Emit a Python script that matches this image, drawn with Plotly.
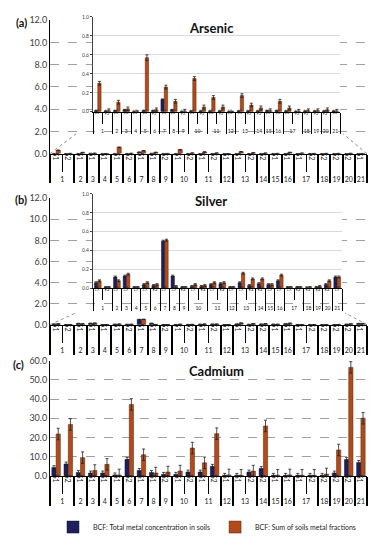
import plotly.graph_objects as go

groups = ["1","1","2","3","4","5","6","7","8","9","10","10","11","11","12","13","13","14","15","16","17","17","18","19","20","21"]
sites = ["S1","S2","S1","S1","S1","S1","S2","S1","S1","S2","S1","S2","S1","S2","S1","S1","S2","S2","S1","S1","S1","S2","S2","S2","S2","S1"]

as_total = [0.01,0.005,0.01,0.02,0.0,0.01,0.01,0.13,0.02,0.0,0.005,0.005,0.005,0.005,0.0,0.005,0.005,0.005,0.01,0.01,0.005,0.0,0.005,0.005,0.005,0.005]
as_sum = [0.30,0.01,0.10,0.03,0.0,0.57,0.02,0.26,0.11,0.005,0.35,0.05,0.15,0.05,0.0,0.17,0.07,0.04,0.01,0.11,0.04,0.005,0.01,0.01,0.02,0.005]
as_total_err = [0.005]*26
as_sum_err = [0.02,0.02,0.02,0.02,0.01,0.03,0.02,0.02,0.02,0.02,0.02,0.02,0.02,0.02,0.005,0.02,0.02,0.02,0.02,0.02,0.02,0.02,0.02,0.02,0.02,0.02]

ag_total = [0.06,0.01,0.12,0.13,0.01,0.04,0.03,0.50,0.13,0.01,0.02,0.02,0.04,0.05,0.01,0.06,0.03,0.05,0.04,0.08,0.01,0.01,0.005,0.01,0.04,0.12]
ag_sum = [0.08,0.01,0.08,0.15,0.01,0.06,0.04,0.51,0.02,0.01,0.04,0.03,0.06,0.06,0.01,0.16,0.10,0.10,0.04,0.14,0.01,0.01,0.01,0.02,0.08,0.12]
ag_total_err = [0.01]*26
ag_sum_err = [0.01]*26

cd_total = [4.3,6.2,1.8,1.5,1.5,0.5,8.6,2.8,1.8,0.8,0.8,2.0,2.0,5.0,0.3,0.3,2.0,3.8,0.3,0.3,0.3,0.3,0.3,1.5,8.5,7.0]
cd_sum = [21.8,26.8,9.5,2.8,6.0,0.5,37.2,11.0,1.5,2.0,2.5,14.5,6.8,22.0,0.5,0.3,2.5,26.0,0.3,0.5,0.3,0.3,1.0,13.5,56.5,30.0]
cd_total_err = [1.0]*26
cd_sum_err = [3.0]*26

names = ["BCF: Total metal concentration in soils", "BCF: Sum of soils metal fractions"]
col_total = "#1c1f5c"
col_sum = "#b4491c"

# page body has an 8px margin: the figure covers reference pixels 8..379 x 8..542
OFF = 8
W, H = 371, 534
def px(x): return (x - OFF) / W
def py(y): return 1 - (y - OFF) / H

FONT = "Lato"
fig = go.Figure()

def add_bars(xa, ya, tot, tot_err, sm, sm_err, show):
    x = [groups, sites]
    fig.add_trace(go.Bar(x=x, y=tot, name=names[0], marker=dict(color=col_total, line=dict(color="#101030", width=0.5)),
                         error_y=dict(type="data", array=tot_err, color="#222", thickness=0.8, width=1.5),
                         xaxis=xa, yaxis=ya, showlegend=show, legendgroup="t"))
    fig.add_trace(go.Bar(x=x, y=sm, name=names[1], marker=dict(color=col_sum, line=dict(color="#4a2a0a", width=0.5)),
                         error_y=dict(type="data", array=sm_err, color="#222", thickness=0.8, width=1.5),
                         xaxis=xa, yaxis=ya, showlegend=show, legendgroup="s"))

add_bars("x", "y", as_total, as_total_err, as_sum, as_sum_err, False)
add_bars("x3", "y3", as_total, as_total_err, as_sum, as_sum_err, False)
add_bars("x4", "y4", ag_total, ag_total_err, ag_sum, ag_sum_err, False)
add_bars("x6", "y6", ag_total, ag_total_err, ag_sum, ag_sum_err, False)
add_bars("x7", "y7", cd_total, cd_total_err, cd_sum, cd_sum_err, True)

def main_x(anchor, dom):
    return dict(domain=dom, anchor=anchor, type="multicategory", showline=True, linecolor="black", linewidth=1,
                ticks="outside", tickson="boundaries", ticklen=17, tickcolor="black", tickwidth=1,
                ticklabelstandoff=-7, tickfont=dict(family=FONT, size=7, color="#222"), automargin=False,
                showdividers=True, dividercolor="black", dividerwidth=1.5, showgrid=False, fixedrange=True)

def main_y(anchor, dom, rng, dt):
    return dict(domain=dom, anchor=anchor, range=rng, dtick=dt, tickformat=".1f", showline=True, linecolor="black",
                linewidth=1, showgrid=True, gridcolor="#a0a0a0", griddash="dash", gridwidth=0.8, zeroline=False,
                tickfont=dict(family=FONT, size=9, color="#404040"), ticks="", fixedrange=True, automargin=False)

def inset_x(anchor, dom):
    return dict(domain=dom, anchor=anchor, type="multicategory", showline=True, linecolor="black", linewidth=1,
                ticks="outside", tickson="boundaries", ticklen=11, tickcolor="black", tickwidth=0.8,
                ticklabelstandoff=-7, tickfont=dict(family=FONT, size=5, color="#222"), automargin=False,
                showdividers=True, dividercolor="black", dividerwidth=1, showgrid=False, fixedrange=True)

def inset_y(anchor, dom):
    return dict(domain=dom, anchor=anchor, range=[0, 1], dtick=0.2, tickformat=".1f", showline=True, linecolor="#404040",
                linewidth=1, showgrid=True, gridcolor="#d9d9d9", gridwidth=0.8, zeroline=False, automargin=False,
                tickfont=dict(family=FONT, size=5, color="#404040"), ticks="outside", ticklen=2, tickcolor="#404040",
                fixedrange=True)

def box_ax(anchor, dom):
    return dict(domain=dom, anchor=anchor, range=[0, 1], showline=True, mirror=True, linecolor="#808080", linewidth=1.5,
                showgrid=False, zeroline=False, showticklabels=False, ticks="", fixedrange=True, automargin=False)

fig.update_layout(
    template="none",
    width=W, height=H, margin=dict(l=0, r=0, t=0, b=0, pad=0), autosize=False,
    paper_bgcolor="white", plot_bgcolor="white",
    barmode="group", bargap=0.3, bargroupgap=0.0,
    xaxis=main_x("y", [px(50), px(367)]),
    yaxis=main_y("x", [py(155), py(20.3)], [0, 12], 2),
    xaxis2=box_ax("y2", [px(76), px(343)]),
    yaxis2=box_ax("x2", [py(135), py(14)]),
    xaxis3=inset_x("y3", [px(93), px(340)]),
    yaxis3=inset_y("x3", [py(112.7), py(17)]),
    xaxis4=main_x("y4", [px(50), px(367)]),
    yaxis4=main_y("x4", [py(327.7), py(200)], [0, 12], 2),
    xaxis5=box_ax("y5", [px(76), px(345)]),
    yaxis5=box_ax("x5", [py(315.7), py(192.3)]),
    xaxis6=inset_x("y6", [px(93), px(342)]),
    yaxis6=inset_y("x6", [py(291), py(195.7)]),
    xaxis7=main_x("y7", [px(50), px(367)]),
    yaxis7=main_y("x7", [py(480.3), py(364)], [0, 60], 10),
    legend=dict(orientation="h", x=px(207), xanchor="center", y=py(532), yanchor="middle",
                font=dict(family=FONT, size=7, color="#222"), tracegroupgap=0, bgcolor="rgba(0,0,0,0)"),
    showlegend=True,
)

annots = [
    dict(text="<b>(a)</b>", x=px(21), y=py(23), font=dict(size=11)),
    dict(text="<b>(b)</b>", x=px(21), y=py(201), font=dict(size=11)),
    dict(text="<b>(c)</b>", x=px(18), y=py(368), font=dict(size=11)),
    dict(text="<b>Arsenic</b>", x=px(211), y=py(28), font=dict(size=13)),
    dict(text="<b>Silver</b>", x=px(211), y=py(203), font=dict(size=13)),
    dict(text="<b>Cadmium</b>", x=px(216), y=py(374), font=dict(size=13)),
]
for a in annots:
    a.update(xref="paper", yref="paper", showarrow=False, xanchor="center", yanchor="middle")
    a["font"].update(family=FONT, color="#111")
fig.update_layout(annotations=annots)

conn = [((50, 155), (76, 135)), ((367, 155), (343, 135)), ((50, 327.7), (76, 315.7)), ((367, 327.7), (345, 315.7))]
fig.update_layout(shapes=[dict(type="line", xref="paper", yref="paper", x0=px(a[0]), y0=py(a[1]), x1=px(b[0]), y1=py(b[1]),
                               line=dict(color="#909090", width=1, dash="dot")) for a, b in conn])

fig.write_html("out.html")
